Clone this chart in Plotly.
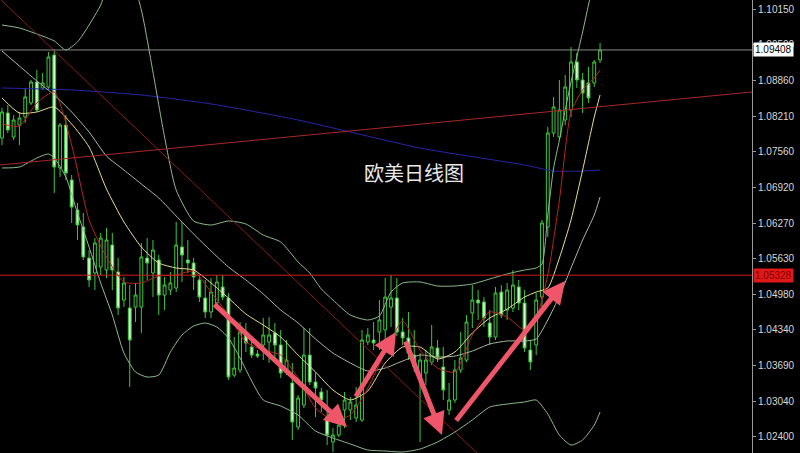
import plotly.graph_objects as go

# ---------------- data (EUR/USD daily) ----------------
opens = [1.07813,1.08266,1.07831,1.08048,1.08193,1.08448,1.08828,1.08719,1.08737,1.09316,
 1.07270,1.08048,1.07052,1.06509,1.06201,1.05639,1.05368,1.05476,1.05422,1.05874,
 1.05386,1.04878,1.04733,1.04751,1.04751,1.05639,1.05368,1.05603,1.04968,1.05059,
 1.05096,1.05838,1.05603,1.05549,1.05241,1.04914,1.04661,1.04824,1.05114,1.04914,
 1.03519,1.03610,1.04299,1.04027,1.03900,1.04063,1.04118,1.04281,1.04063,1.03574,
 1.03375,1.02577,1.02976,1.03881,1.03393,1.03212,1.02758,1.02306,1.02432,1.02885,
 1.02885,1.02740,1.02704,1.04118,1.04154,1.04299,1.04335,1.04751,1.04914,1.04299,
 1.04190,1.03881,1.03429,1.03556,1.03755,1.04009,1.03664,1.02885,1.03067,1.03610,
 1.03791,1.04643,1.04878,1.04842,1.04462,1.04208,1.05023,1.04697,1.04733,1.05114,
 1.04824,1.03972,1.04063,1.04932,1.06201,1.07904,1.07831,1.08139,1.08320,1.09190,
 1.08864,1.08810,1.08810,1.09226]
highs = [1.08357,1.08411,1.08229,1.08284,1.08719,1.08864,1.09045,1.08991,1.09371,1.09407,
 1.08085,1.08229,1.07142,1.06636,1.06455,1.05784,1.06001,1.06092,1.06183,1.06092,
 1.05639,1.05295,1.05150,1.05187,1.05911,1.06001,1.05965,1.05693,1.05295,1.05386,
 1.06292,1.06292,1.05965,1.05639,1.05331,1.05241,1.05277,1.05331,1.05331,1.05005,
 1.04208,1.04480,1.04462,1.04190,1.03972,1.04552,1.04570,1.04462,1.04335,1.04154,
 1.03737,1.03157,1.04371,1.04371,1.03556,1.03284,1.03248,1.02559,1.02849,1.03212,
 1.03121,1.03302,1.04335,1.04371,1.04480,1.04878,1.05277,1.05331,1.05277,1.04552,
 1.04661,1.04335,1.03918,1.03972,1.04425,1.04154,1.04027,1.03375,1.03791,1.04299,
 1.04606,1.05150,1.05059,1.04932,1.04697,1.05114,1.05150,1.05187,1.05422,1.05241,
 1.05059,1.04154,1.05005,1.06328,1.08012,1.08556,1.08864,1.08954,1.09462,1.09353,
 1.08991,1.09099,1.09226,1.09535]
lows = [1.07686,1.07904,1.07777,1.07686,1.08085,1.08411,1.08284,1.08683,1.08683,1.06817,
 1.07106,1.07052,1.06274,1.05965,1.05603,1.05114,1.05059,1.05331,1.05277,1.05059,
 1.04606,1.04751,1.03302,1.04480,1.04281,1.05241,1.04932,1.04606,1.04697,1.04968,
 1.05023,1.05205,1.05368,1.05059,1.04842,1.04552,1.04552,1.04733,1.04878,1.03429,
 1.03483,1.03556,1.03936,1.03827,1.03827,1.03791,1.03737,1.03791,1.03465,1.03519,
 1.02342,1.02523,1.02922,1.03338,1.02758,1.02849,1.02251,1.02125,1.02396,1.02559,
 1.02704,1.02668,1.02668,1.04063,1.03972,1.03972,1.04063,1.04389,1.04226,1.04063,
 1.03791,1.03574,1.02306,1.03338,1.03700,1.03755,1.03067,1.02794,1.03013,1.03556,
 1.03755,1.04371,1.04516,1.04389,1.04063,1.04154,1.04552,1.04516,1.04661,1.04697,
 1.03936,1.03610,1.03881,1.04751,1.06019,1.07831,1.07777,1.08048,1.08193,1.08719,
 1.08266,1.08448,1.08737,1.09172]
closes = [1.08284,1.07958,1.08139,1.08175,1.08556,1.08828,1.08320,1.08810,1.09280,1.07288,
 1.08048,1.07179,1.06563,1.06237,1.05657,1.05241,1.05911,1.06001,1.05965,1.05422,
 1.04733,1.05187,1.04154,1.04968,1.05657,1.05549,1.05784,1.04968,1.05150,1.05187,
 1.05874,1.05693,1.05549,1.05295,1.04932,1.04661,1.05023,1.05205,1.04932,1.03483,
 1.03646,1.04299,1.04100,1.03881,1.03863,1.04244,1.04244,1.04063,1.03556,1.03791,
 1.02668,1.03103,1.03881,1.03393,1.03284,1.03067,1.02432,1.02432,1.02613,1.03067,
 1.03031,1.02976,1.04154,1.04244,1.04100,1.04516,1.04932,1.04914,1.04299,1.04190,
 1.03918,1.03664,1.03791,1.03791,1.04027,1.03845,1.03248,1.03067,1.03610,1.03827,
 1.04480,1.04878,1.04824,1.04552,1.04208,1.05005,1.04606,1.05059,1.05150,1.04824,
 1.04009,1.03755,1.04878,1.06274,1.07904,1.08375,1.08320,1.08737,1.09190,1.08864,
 1.08629,1.08538,1.09190,1.09408]

# indicator lines (bar index, price)
ma_fast_x = [0,3,6,9,12,15,18,21,24,27,30,33,36,39,42,45,48,51,54,57,60,63,66,69,72,75,78,81,84,87,90,92,94,96,98,100,102,103]
ma_fast_y = [1.08067,1.08030,1.08448,1.08647,1.07686,1.06328,1.05657,1.05205,1.05187,1.05313,1.05331,1.05404,
             1.05023,1.04606,1.04118,1.03972,1.03881,1.03465,1.02922,1.02704,1.02794,1.03284,1.03936,1.04498,
             1.03972,1.03646,1.03574,1.04244,1.04661,1.04570,1.04335,1.04552,1.05331,1.06690,1.08284,1.08683,1.08900,1.09045]
ma_mid_x = [0,3,6,9,12,15,18,21,24,27,30,33,36,39,42,45,48,51,54,57,60,63,66,69,72,75,78,81,84,87,90,92,94,96,98,100,102,103]
ma_mid_y = [1.08538,1.08266,1.08284,1.08375,1.08067,1.07650,1.06889,1.06292,1.05838,1.05549,1.05458,1.05422,
            1.05187,1.04914,1.04625,1.04425,1.04208,1.03881,1.03574,1.03248,1.03067,1.03230,1.03737,1.04027,
            1.04027,1.03809,1.03936,1.04281,1.04552,1.04715,1.04932,1.05023,1.05096,1.05639,1.06328,1.07233,1.08193,1.08592]
ma_slow_x = [0,6,9,12,15,18,21,24,27,30,33,36,39,42,45,48,51,54,57,60,63,66,69,72,75,78,81,84,87,90,92,94,96,98,100,102,103]
ma_slow_y = [1.09389,1.08846,1.08592,1.08284,1.07922,1.07487,1.07233,1.06980,1.06726,1.06400,1.06074,1.05766,
             1.05476,1.05241,1.04987,1.04697,1.04462,1.04172,1.03918,1.03737,1.03592,1.03646,1.03773,1.03881,
             1.03845,1.03863,1.03954,1.04082,1.04136,1.04136,1.04172,1.04516,1.04950,1.05458,1.05965,1.06418,1.06744]
ma_long_x = [0,12,24,36,51,72,90,95,100,103]
ma_long_y = [1.08719,1.08683,1.08592,1.08430,1.08139,1.07632,1.07324,1.07215,1.07215,1.07233]
bb_up_x = [0,3,6,9,11,13,15,17,19,22,24,26,28,30,33,36,39,42,45,48,51,53,55,57,60,63,65,67,69,72,75,78,81,84,87,90,92,93,94,95,96,97,98,100,101,102]
bb_up_y = [1.09860,1.09806,1.09698,1.09571,1.09407,1.09553,1.09860,1.10222,1.10766,1.10766,1.10132,1.09009,
           1.07831,1.06871,1.06310,1.06237,1.06310,1.06256,1.06055,1.05929,1.05567,1.05368,1.05078,1.04878,
           1.04606,1.04516,1.04588,1.05023,1.05187,1.05205,1.05132,1.05132,1.05168,1.05259,1.05350,1.05422,
           1.05458,1.05531,1.06418,1.07270,1.07777,1.08320,1.08828,1.09734,1.10222,1.10675]
bb_dn_x = [0,3,6,8,9,11,13,15,17,19,21,23,25,27,29,31,33,35,37,39,41,43,45,48,51,54,57,60,63,66,69,72,75,78,81,84,87,90,92,94,96,98,100,102,103]
bb_dn_y = [1.07270,1.07288,1.07451,1.07524,1.07451,1.07106,1.06455,1.05838,1.05187,1.04606,1.03918,1.03574,
           1.03483,1.03519,1.03936,1.04244,1.04407,1.04462,1.04389,1.04190,1.03827,1.03411,1.03067,1.02958,
           1.02794,1.02505,1.02378,1.02270,1.02161,1.02143,1.02125,1.02179,1.02306,1.02487,1.02704,1.02940,
           1.02994,1.03031,1.03067,1.02813,1.02432,1.02251,1.02342,1.02613,1.02849]

# hand-drawn objects
down_trend_x = [-0.344, 81.8]
down_trend_y = [1.10331, 1.02107]
up_trend_x = [-0.344, 129.17]
up_trend_y = [1.07324, 1.08647]
support_level = 1.05328
last_price = 1.09408
arrow_tail_x = [36.34, 60.8, 69.41, 78.02]
arrow_tail_y = [1.04824, 1.03103, 1.04154, 1.02668]
arrow_head_x = [59.42, 67.86, 75.78, 96.97]
arrow_head_y = [1.02577, 1.04299, 1.02432, 1.05223]

tick_vals = [1.10150,1.09500,1.08860,1.08210,1.07560,1.06920,1.06270,1.05630,1.04980,1.04340,1.03690,1.03040,1.02400]
tick_text = ["%.5f" % v for v in tick_vals]
title_text = "欧美日线图"

# ---------------- figure ----------------
GREEN = "#3cc83c"
idx = list(range(len(opens)))

fig = go.Figure()
fig.add_trace(go.Candlestick(
    x=idx, open=opens, high=highs, low=lows, close=closes,
    increasing=dict(line=dict(color=GREEN, width=1), fillcolor="#000000"),
    decreasing=dict(line=dict(color=GREEN, width=1), fillcolor="#d4f5cc"),
    whiskerwidth=0, hoverinfo="skip"))

def add_line(x, y, color, width=1):
    fig.add_trace(go.Scatter(x=x, y=y, mode="lines", line=dict(color=color, width=width, shape="spline", smoothing=0.6),
                             hoverinfo="skip"))

add_line(ma_long_x, ma_long_y, "#2626a8")
add_line(bb_up_x, bb_up_y, "#8fbc8f")
add_line(bb_dn_x, bb_dn_y, "#8fbc8f")
add_line(ma_slow_x, ma_slow_y, "#a9bba9")
add_line(ma_mid_x, ma_mid_y, "#e8e096")
add_line(ma_fast_x, ma_fast_y, "#b8261f")

fig.add_trace(go.Scatter(x=down_trend_x, y=down_trend_y, mode="lines", line=dict(color="#8b1c1c", width=1), hoverinfo="skip"))
fig.add_trace(go.Scatter(x=up_trend_x, y=up_trend_y, mode="lines", line=dict(color="#a82828", width=1), hoverinfo="skip"))

fig.add_shape(type="line", xref="paper", x0=0, x1=1, yref="y", y0=support_level, y1=support_level,
              line=dict(color="#d01c1c", width=1))
fig.add_shape(type="line", xref="paper", x0=0, x1=1, yref="y", y0=last_price, y1=last_price,
              line=dict(color="#8c8c8c", width=1))

annotations = []
for tx, ty, hx, hy in zip(arrow_tail_x, arrow_tail_y, arrow_head_x, arrow_head_y):
    annotations.append(dict(x=hx, y=hy, ax=tx, ay=ty, xref="x", yref="y", axref="x", ayref="y",
                            text="", showarrow=True, arrowhead=2, arrowsize=0.9, arrowwidth=5,
                            arrowcolor="#f0566a", standoff=0))
annotations.append(dict(x=0.5505, y=0.6203, xref="paper", yref="paper", text=title_text, showarrow=False,
                        font=dict(family="Noto Sans CJK SC", size=20, color="#e8e8e8")))
annotations.append(dict(x=1, y=last_price, xref="paper", yref="y", xanchor="left", yanchor="middle", xshift=1,
                        text="%.5f" % last_price, showarrow=False, bgcolor="#ffffff", borderpad=1,
                        font=dict(family="Liberation Sans", size=10, color="#000000")))
annotations.append(dict(x=1, y=support_level, xref="paper", yref="y", xanchor="left", yanchor="middle", xshift=1,
                        text="%.5f" % support_level, showarrow=False, bgcolor="#e01818", borderpad=1,
                        font=dict(family="Liberation Sans", size=10, color="#8a0000")))

fig.update_layout(
    width=800, height=453, margin=dict(l=0, r=48, t=0, b=0),
    paper_bgcolor="#000000", plot_bgcolor="#000000", showlegend=False,
    annotations=annotations,
    xaxis=dict(range=[-0.344, 129.17], visible=False, rangeslider=dict(visible=False), fixedrange=True),
    yaxis=dict(range=[1.02107, 1.10313], side="right", tickvals=tick_vals, ticktext=tick_text,
               ticks="outside", ticklen=3, tickcolor="#9a9a9a", showgrid=False, zeroline=False,
               showline=True, linecolor="#9a9a9a", linewidth=1, fixedrange=True,
               tickfont=dict(family="Liberation Sans", size=10, color="#d8d8d8")),
)

fig.write_html("out.html", config={"displayModeBar": False, "staticPlot": True},
               post_script="document.body.style.margin='0';document.body.style.background='#000';")
